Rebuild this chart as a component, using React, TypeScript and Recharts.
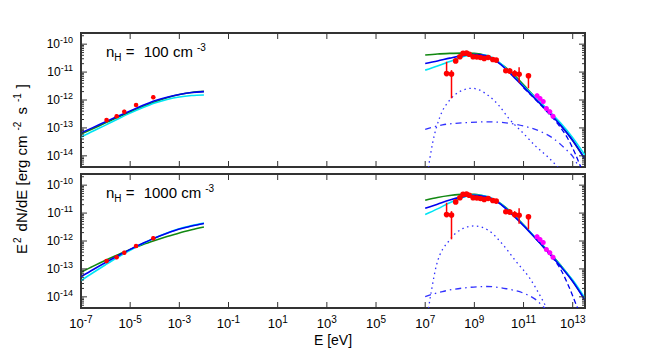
import React from 'react';
import {
  ComposedChart,
  XAxis,
  YAxis,
  Line,
  Scatter,
  ErrorBar,
  ReferenceArea,
} from 'recharts';

// all values are log10 (energy in eV, E^2 dN/dE in erg cm^-2 s^-1)
const xTickExp = [-7, -5, -3, -1, 1, 3, 5, 7, 9, 11, 13];
const yTickExp = [-14, -13, -12, -11, -10];
const yMinorMult = [2, 3, 4, 5, 6, 7, 8, 9];

const leftE = [-7, -6.5, -6, -5.5, -5, -4.5, -4, -3.5, -3, -2.5, -2];
const rightE = [7, 7.5, 8, 8.5, 9, 9.5, 10, 10.5, 11, 11.5, 12, 12.5, 13, 13.5];

// n_H = 100
const green100L = [-13.22, -13.02, -12.82, -12.62, -12.43, -12.24, -12.07, -11.92, -11.8, -11.73, -11.69];
const blue100L = [-13.18, -12.98, -12.78, -12.58, -12.39, -12.2, -12.03, -11.9, -11.8, -11.73, -11.7];
const cyan100L = [-13.33, -13.11, -12.9, -12.68, -12.47, -12.28, -12.11, -11.98, -11.89, -11.84, -11.82];
const green100R = [-10.39, -10.35, -10.33, -10.32, -10.33, -10.42, -10.66, -11.0, -11.46, -11.93, -12.38, -12.87, -13.45, -14.12];
const blue100R = [-10.69, -10.6, -10.5, -10.41, -10.37, -10.42, -10.68, -11.08, -11.53, -11.98, -12.42, -12.9, -13.45, -14.12];
const cyan100R = [-10.93, -10.78, -10.62, -10.46, -10.37, -10.4, -10.64, -11.05, -11.5, -11.93, -12.36, -12.82, -13.35, -13.98];
const dotted100E = [7.1, 7.3, 7.6, 8, 8.4, 8.9, 9.2, 9.6, 10, 10.4, 11, 11.5, 12, 12.5];
const dotted100 = [-14.6, -13.55, -12.6, -12.0, -11.7, -11.58, -11.64, -11.86, -12.2, -12.66, -13.2, -13.66, -14.05, -14.5];
const dashdot100E = [7, 7.7, 8.7, 9.5, 10.2, 11, 11.7, 12.2, 12.7, 13, 13.3];
const dashdot100 = [-13.05, -12.89, -12.81, -12.78, -12.81, -12.93, -13.13, -13.37, -13.75, -14.02, -14.5];
const dashed100E = [11, 11.5, 12, 12.5, 12.8, 13.1, 13.35];
const dashed100 = [-11.56, -12.0, -12.46, -12.98, -13.38, -13.92, -14.45];

// n_H = 1000
const green1000L = [-13.12, -12.9, -12.69, -12.49, -12.3, -12.13, -11.98, -11.84, -11.71, -11.6, -11.5];
const blue1000L = [-13.28, -13.02, -12.77, -12.53, -12.3, -12.09, -11.89, -11.72, -11.57, -11.46, -11.37];
const cyan1000L = [-13.42, -13.13, -12.85, -12.58, -12.33, -12.1, -11.89, -11.71, -11.56, -11.45, -11.36];
const green1000R = [-10.54, -10.44, -10.37, -10.33, -10.33, -10.42, -10.62, -10.97, -11.42, -11.9, -12.36, -12.86, -13.43, -14.1];
const blue1000R = [-10.83, -10.68, -10.53, -10.42, -10.36, -10.42, -10.64, -11.02, -11.45, -11.92, -12.4, -12.9, -13.45, -14.12];
const cyan1000R = [-11.05, -10.85, -10.63, -10.45, -10.35, -10.4, -10.62, -11.0, -11.43, -11.9, -12.38, -12.87, -13.4, -14.05];
const dotted1000E = [7.1, 7.25, 7.46, 8, 8.54, 9, 9.56, 10.17, 10.7, 11.25, 11.73, 12.0];
const dotted1000 = [-14.6, -13.8, -12.86, -11.96, -11.55, -11.46, -11.61, -12.14, -12.74, -13.33, -14.05, -14.5];
const dashdot1000E = [7, 7.7, 8.7, 9.5, 10.3, 11, 11.5, 11.8, 12.1];
const dashdot1000 = [-13.99, -13.81, -13.67, -13.63, -13.71, -13.87, -14.1, -14.35, -14.6];
const dashed1000E = [11.5, 12, 12.5, 12.9, 13.15, 13.3];
const dashed1000 = [-11.92, -12.42, -13.0, -13.75, -14.3, -14.6];

// observed points (same in both panels)
const radioE = [-5.96, -5.55, -5.24, -4.76, -4.06];
const radioF = [-12.72, -12.58, -12.42, -12.18, -11.9];
const radioErr = [0.07, 0.07, 0.07, 0.07, 0.07];

const fermiE = [7.87, 8.07, 8.24, 8.41, 8.54, 8.68, 8.79, 8.95, 9.1, 9.25, 9.4, 9.56, 9.75, 9.89, 10.28, 10.44, 10.64, 10.82, 11.2];
const fermiF = [-11.05, -11.07, -10.6, -10.45, -10.33, -10.32, -10.36, -10.45, -10.46, -10.48, -10.51, -10.48, -10.55, -10.57, -10.95, -10.96, -11.05, -11.08, -11.13];
const fermiLo = [0.1, 0.87, 0.07, 0.06, 0.05, 0.04, 0.04, 0.04, 0.04, 0.04, 0.05, 0.05, 0.05, 0.06, 0.08, 0.1, 0.12, 0.3, 0.45];
const fermiHi = [0.42, 0.14, 0.07, 0.06, 0.05, 0.04, 0.04, 0.04, 0.04, 0.04, 0.05, 0.05, 0.05, 0.06, 0.08, 0.1, 0.12, 0.25, 0.08];

const hessE = [11.55, 11.67, 11.8, 11.93, 12.07, 12.2];
const hessF = [-11.85, -11.95, -12.05, -12.3, -12.42, -12.58];
const hessErr = [0.08, 0.08, 0.08, 0.08, 0.08, 0.08];

const X_MIN = 1e-7;
const X_MAX = 10 ** 13.5;
const Y_MIN = 10 ** -14.4;
const Y_MAX = 10 ** -9.6;
const PLOT_W = 504;
const PLOT_H = 134;

const GREEN = '#118811';
const BLUE = '#0000f0';
const CYAN = '#00e4f4';
const LBLUE = '#3030ff';
const FONT = '"Liberation Sans", Arial, sans-serif';

const xTicks = xTickExp.map((e) => 10 ** e);
const yTicks: number[] = [];
[-15, ...yTickExp].forEach((e) => {
  if (e >= -14) yTicks.push(10 ** e);
  yMinorMult.forEach((m) => {
    const v = m * 10 ** e;
    if (v >= Y_MIN && v <= Y_MAX) yTicks.push(v);
  });
});

const pts = (xs: number[], ys: number[]) => xs.map((e, i) => ({ x: 10 ** e, y: 10 ** ys[i] }));
const errPts = (xs: number[], ys: number[], lo: number[], hi: number[]) =>
  xs.map((e, i) => {
    const y = 10 ** ys[i];
    return { x: 10 ** e, y, err: [y - y * 10 ** -lo[i], y * 10 ** hi[i] - y] };
  });

const radioPts = errPts(radioE, radioF, radioErr, radioErr);
const fermiPts = errPts(fermiE, fermiF, fermiLo, fermiHi);
const hessPts = errPts(hessE, hessF, hessErr, hessErr);

const expOf = (v: number) => Math.round(Math.log10(v));
const isMajor = (v: number) => Math.abs(Math.log10(v) - expOf(v)) < 1e-6;

const YTick = (props: any) => {
  const { x, y, payload } = props;
  const v = payload.value;
  const major = isMajor(v);
  const len = major ? 6 : 3;
  return (
    <g>
      <line x1={x} y1={y} x2={x + len} y2={y} stroke="#333" />
      <line x1={x + PLOT_W} y1={y} x2={x + PLOT_W - len} y2={y} stroke="#333" />
      {major && (
        <text x={x - 8} y={y + 4} textAnchor="end" fontSize={12} fill="#000" fontFamily={FONT}>
          10<tspan dy={-5} fontSize={9}>{expOf(v)}</tspan>
        </text>
      )}
    </g>
  );
};

const makeXTick = (labels: boolean) => (props: any) => {
  const { x, y, payload } = props;
  const v = payload.value;
  return (
    <g>
      <line x1={x} y1={y} x2={x} y2={y - 6} stroke="#333" />
      <line x1={x} y1={y - PLOT_H} x2={x} y2={y - PLOT_H + 6} stroke="#333" />
      {labels && (
        <text x={x} y={y + 20} textAnchor="middle" fontSize={13} fill="#000" fontFamily={FONT}>
          10<tspan dy={-5} fontSize={10}>{expOf(v)}</tspan>
        </text>
      )}
    </g>
  );
};

type PanelProps = {
  lines: { d: { x: number; y: number }[]; color: string; dash?: string; w?: number }[];
  showX: boolean;
  height: number;
};

const Panel = ({ lines, showX, height }: PanelProps) => (
  <ComposedChart
    width={650}
    height={height}
    margin={{ top: 33, right: 65, left: 8, bottom: 0 }}
  >
    <XAxis
      dataKey="x"
      type="number"
      scale="log"
      domain={[X_MIN, X_MAX]}
      allowDataOverflow
      ticks={xTicks}
      interval={0}
      height={height - 33 - PLOT_H}
      axisLine={false}
      tickLine={false}
      tickSize={0}
      tickMargin={0}
      tick={makeXTick(showX)}
    />
    <YAxis
      dataKey="y"
      type="number"
      scale="log"
      domain={[Y_MIN, Y_MAX]}
      allowDataOverflow
      ticks={yTicks}
      interval={0}
      width={73}
      axisLine={false}
      tickLine={false}
      tickSize={0}
      tickMargin={0}
      tick={<YTick />}
    />
    <Scatter data={hessPts} dataKey="y" isAnimationActive={false}
      shape={(p: any) => <circle cx={p.cx} cy={p.cy} r={2.5} fill="#ff00ff" />}>
      <ErrorBar dataKey="err" direction="y" width={0} stroke="#ff00ff" strokeWidth={1.5} />
    </Scatter>
    {lines.map((l, i) => (
      <Line
        key={i}
        data={l.d}
        dataKey="y"
        type="monotone"
        stroke={l.color}
        strokeWidth={l.w ?? 1.6}
        strokeDasharray={l.dash}
        dot={false}
        isAnimationActive={false}
      />
    ))}
    <Scatter data={radioPts} dataKey="y" isAnimationActive={false}
      shape={(p: any) => <circle cx={p.cx} cy={p.cy} r={2.3} fill="#ff0000" />}>
      <ErrorBar dataKey="err" direction="y" width={0} stroke="#ff0000" strokeWidth={1.5} />
    </Scatter>
    <Scatter data={fermiPts} dataKey="y" isAnimationActive={false}
      shape={(p: any) => <circle cx={p.cx} cy={p.cy} r={2.8} fill="#ff0000" />}>
      <ErrorBar dataKey="err" direction="y" width={0} stroke="#ff0000" strokeWidth={1.5} />
    </Scatter>
    <ReferenceArea x1={X_MIN} x2={X_MAX} y1={Y_MIN} y2={Y_MAX} fill="none" stroke="#333" strokeWidth={2} />
  </ComposedChart>
);

const panelLines = (
  gL: number[], bL: number[], cL: number[],
  gR: number[], bR: number[], cR: number[],
  dotE: number[], dot: number[], ddE: number[], dd: number[], dsE: number[], ds: number[],
) => [
  { d: pts(dotE, dot), color: LBLUE, dash: '1.5 3.5', w: 1.3 },
  { d: pts(ddE, dd), color: LBLUE, dash: '6 4 1.5 4', w: 1.3 },
  { d: pts(dsE, ds), color: BLUE, dash: '5 3', w: 1.3 },
  { d: pts(leftE, gL), color: GREEN },
  { d: pts(rightE, gR), color: GREEN },
  { d: pts(leftE, cL), color: CYAN },
  { d: pts(rightE, cR), color: CYAN },
  { d: pts(leftE, bL), color: BLUE },
  { d: pts(rightE, bR), color: BLUE },
];

const lines100 = panelLines(green100L, blue100L, cyan100L, green100R, blue100R, cyan100R,
  dotted100E, dotted100, dashdot100E, dashdot100, dashed100E, dashed100);
const lines1000 = panelLines(green1000L, blue1000L, cyan1000L, green1000R, blue1000R, cyan1000R,
  dotted1000E, dotted1000, dashdot1000E, dashdot1000, dashed1000E, dashed1000);

const PanelLabel = ({ y, n }: { y: number; n: string }) => (
  <text x={106} y={y} fontSize={15} fill="#000" fontFamily={FONT}>
    n<tspan dy={4} fontSize={10}>H</tspan>
    <tspan dy={-4}> = </tspan>
    <tspan dx={5}>{n} cm</tspan>
    <tspan dx={4} dy={-6} fontSize={10}>-3</tspan>
  </text>
);

export default function App() {
  return (
    <div style={{ position: 'absolute', left: 0, top: 0, width: 650, height: 350, background: '#fff' }}>
      <div style={{ position: 'absolute', left: 0, top: 0 }}>
        <Panel lines={lines100} showX={false} height={175} />
      </div>
      <div style={{ position: 'absolute', left: 0, top: 141 }}>
        <Panel lines={lines1000} showX height={209} />
      </div>
      <svg width={650} height={350} style={{ position: 'absolute', left: 0, top: 0, pointerEvents: 'none' }}>
        <PanelLabel y={57} n="100" />
        <PanelLabel y={198} n="1000" />
        <text x={333} y={345} textAnchor="middle" fontSize={14} fill="#000" fontFamily={FONT}>E [eV]</text>
        <text x={27} y={169} textAnchor="middle" fontSize={15} fill="#000" fontFamily={FONT}
          transform="rotate(-90 27 169)">
          E<tspan dx={1} dy={-6} fontSize={10}>2</tspan>
          <tspan dx={6} dy={6}>dN/dE [erg cm</tspan>
          <tspan dx={5} dy={-6} fontSize={10}>-2</tspan>
          <tspan dx={7} dy={6}>s</tspan>
          <tspan dx={5} dy={-6} fontSize={10}>-1</tspan>
          <tspan dx={5} dy={6}>]</tspan>
        </text>
      </svg>
    </div>
  );
}
